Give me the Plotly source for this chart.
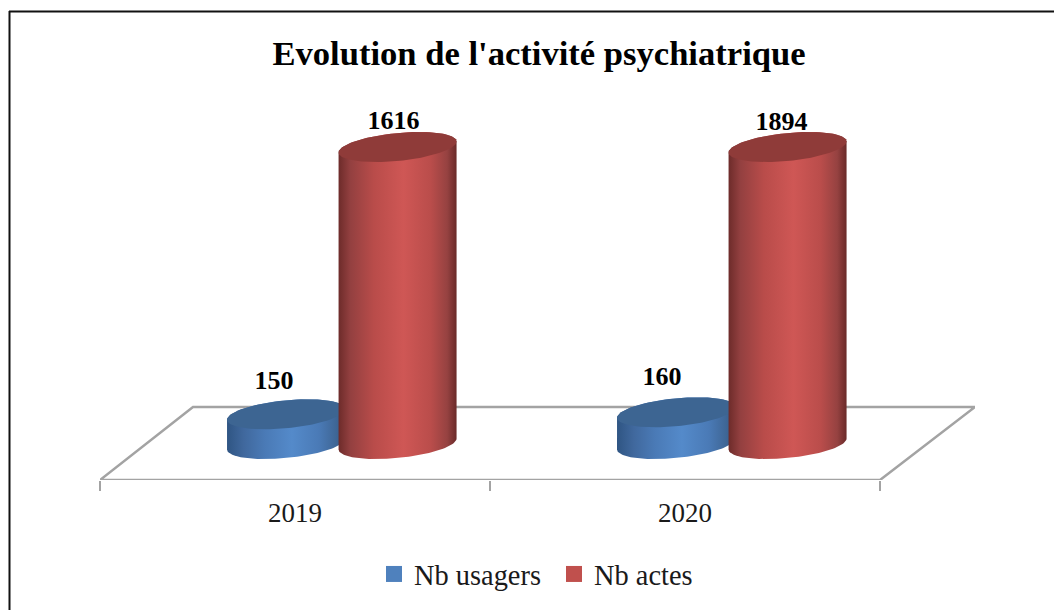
import numpy as np
import plotly.graph_objects as go

# ---- data ----
years = ["2019", "2020"]
series_names = ["Nb usagers", "Nb actes"]
nb_usagers = [150, 160]
nb_actes = [1616, 1894]
AXIS_MAX = 1500          # the original value axis is capped: taller bars are cut here

# ---- styling / projection constants ----
W, H = 1054, 610
PX_PER_CAT = 390.0
PX_PER_VAL = 0.198
X0_PX, X1_PX = 100, 975
FLOOR_FRONT_PX, BASE_PX = 480, 444
R_PX, RISE_PX, B_PX = 59.0, 5.5, 14.0
OFFSETS = [0.477, 0.763]          # centre of each cylinder inside a category
DEPTH_X = 93 / PX_PER_CAT
FLOOR_FRONT = -(FLOOR_FRONT_PX - BASE_PX) / PX_PER_VAL
FLOOR_BACK = (BASE_PX - 407) / PX_PER_VAL
GREY = "#a3a3a3"
FONT = "Liberation Serif"

BODY = [
    [[0, "#2f5583"], [0.14, "#40689d"], [0.32, "#4a7ab6"], [0.55, "#548aca"],
     [0.78, "#4a7ab6"], [0.92, "#3f6797"], [1, "#335a86"]],
    [[0, "#6d2b2a"], [0.10, "#934040"], [0.30, "#b94c4a"], [0.55, "#cf5755"],
     [0.78, "#ba4d4b"], [0.92, "#964241"], [1, "#6a2a29"]],
]
TOP = ["#3d6592", "#8f3b39"]
SWATCH = ["#4f81bd", "#c0504d"]
LABEL_SHIFT = {  # label offsets from the top of each cylinder, px
    (0, 0): (-12, 32), (0, 1): (-14, 34), (1, 0): (-4, 25), (1, 1): (-6, 24),
}


def ellipse(center_x, value, t):
    dx = R_PX * np.cos(t) / PX_PER_CAT
    dy = (B_PX * np.sin(t) + RISE_PX * np.cos(t)) / PX_PER_VAL
    return center_x + dx, value + dy


fig = go.Figure()

# floor of the 3D chart
fig.add_trace(go.Scatter(
    x=[0, 2, 2 + DEPTH_X * 95 / 93, DEPTH_X, 0],
    y=[FLOOR_FRONT, FLOOR_FRONT, FLOOR_BACK, FLOOR_BACK, FLOOR_FRONT],
    mode="lines", line=dict(color=GREY, width=2.5), showlegend=False,
    hoverinfo="skip", cliponaxis=False,
))

# cylinders
label_x, label_y, label_text = [], [], []
for s, values in enumerate([nb_usagers, nb_actes]):
    for c, v in enumerate(values):
        cx = c + OFFSETS[s]
        h = min(v, AXIS_MAX)
        low = np.linspace(np.pi, 2 * np.pi, 60)
        up = np.linspace(0, np.pi, 60)
        xb, yb = ellipse(cx, 0, low)
        xt, yt = ellipse(cx, h, up)
        fig.add_trace(go.Scatter(
            x=np.concatenate([xb, xt]), y=np.concatenate([yb, yt]),
            mode="lines", line=dict(width=0), fill="toself",
            fillgradient=dict(type="horizontal", colorscale=BODY[s]),
            showlegend=False, hoverinfo="skip",
        ))
        t = np.linspace(0, 2 * np.pi, 120)
        xe, ye = ellipse(cx, h, t)
        fig.add_trace(go.Scatter(
            x=xe, y=ye, mode="lines", line=dict(width=0), fill="toself",
            fillcolor=TOP[s], showlegend=False, hoverinfo="skip",
        ))
        sx, sy = LABEL_SHIFT[(s, c)]
        label_x.append(cx + sx / PX_PER_CAT)
        label_y.append(h + sy / PX_PER_VAL)
        label_text.append(str(v))

# value labels
fig.add_trace(go.Scatter(
    x=label_x, y=label_y, text=label_text, mode="text",
    textposition="middle center",
    textfont=dict(family=FONT, size=26, color="#000000", weight=700),
    showlegend=False, hoverinfo="skip", cliponaxis=False,
))

# legend entries
for name, col in zip(series_names, SWATCH):
    fig.add_trace(go.Scatter(
        x=[None], y=[None], mode="markers", name=name,
        marker=dict(symbol="square", size=16, color=col),
    ))

fig.update_layout(
    width=W, height=H, autosize=False,
    margin=dict(l=0, r=0, t=0, b=0, pad=0),
    paper_bgcolor="white", plot_bgcolor="rgba(0,0,0,0)",
    font=dict(family=FONT, color="#000000"),
    title=dict(
        text="<b>Evolution de l'activité psychiatrique</b>",
        font=dict(family=FONT, size=34.6, color="#000000"),
        x=539 / W, xanchor="center", y=1 - 53 / H, yanchor="middle",
    ),
    xaxis=dict(
        domain=[X0_PX / W, X1_PX / W],
        range=[0, (X1_PX - X0_PX) / PX_PER_CAT],
        tickmode="array", tickvals=[0.5, 1.5], ticktext=years,
        ticks="outside", ticklen=0, tickcolor="rgba(0,0,0,0)",
        tickfont=dict(family=FONT, size=27, color="#1a1a1a"),
        ticklabelstandoff=9,
        minor=dict(tickmode="array", tickvals=[0, 1, 2], ticks="outside",
                   ticklen=10, tickwidth=2, tickcolor=GREY, showgrid=False),
        showgrid=False, zeroline=False, showline=False, fixedrange=True,
    ),
    yaxis=dict(
        domain=[(H - FLOOR_FRONT_PX) / H, 1],
        range=[FLOOR_FRONT, BASE_PX / PX_PER_VAL],
        visible=False, fixedrange=True,
    ),
    legend=dict(
        orientation="h", x=554 / W, xanchor="center", y=1 - 574 / H, yanchor="middle",
        font=dict(family=FONT, size=28.4, color="#1a1a1a"),
        bgcolor="rgba(0,0,0,0)", entrywidth=135, entrywidthmode="pixels",
    ),
    shapes=[
        dict(type="line", xref="paper", yref="paper", x0=9.5 / W, x1=9.5 / W,
             y0=0, y1=1 - 11 / H, line=dict(color="#111111", width=2)),
        dict(type="line", xref="paper", yref="paper", x0=9 / W, x1=1,
             y0=1 - 11.5 / H, y1=1 - 11.5 / H, line=dict(color="#111111", width=2)),
    ],
)

fig.write_html("out.html", config={"displayModeBar": False},
               post_script="document.body.style.margin='0';")
